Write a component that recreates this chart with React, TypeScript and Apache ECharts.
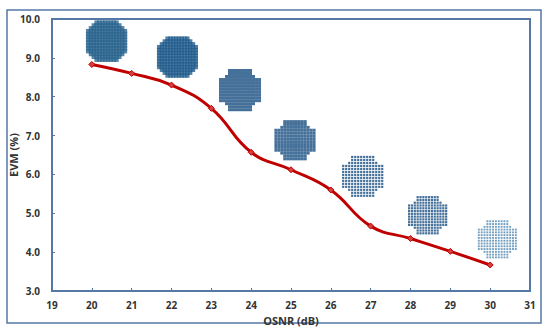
import React, { useEffect, useRef } from "react";
import * as echarts from "echarts";

const osnr = [20, 21, 22, 23, 24, 25, 26, 27, 28, 29, 30];
const evm = [8.83, 8.6, 8.3, 7.7, 6.57, 6.12, 5.6, 4.67, 4.35, 4.02, 3.67];

// Inset constellations, placed in data coordinates
const constX = [20.37, 22.15, 23.72, 25.1, 26.8, 28.43, 30.18];
const constY = [9.43, 9.02, 8.17, 6.88, 5.95, 4.95, 4.33];
const constSpanX = [0.92, 0.92, 0.98, 0.96, 0.98, 0.93, 0.93];
const constSpanY = [0.95, 0.95, 1.01, 0.96, 1.0, 0.93, 0.93];
const constDot = [4.6, 4.4, 3.0, 2.9, 2.2, 2.2, 1.9];
const constColor = ["#2d6790", "#255f8e", "#174c80", "#174c80", "#174c80", "#174c80", "#4f86b0"];
const latticeSize = 14;
const softCut = [3, 2, 1];
const hardCut = [3, 3, 2];
const constCut = [softCut, softCut, hardCut, hardCut, hardCut, hardCut, hardCut];

const lattice = (i: number) => {
  const pts: number[][] = [];
  const n = latticeSize;
  const cut = constCut[i];
  for (let r = 0; r < n; r++) {
    for (let c = 0; c < n; c++) {
      const er = Math.min(r, n - 1 - r);
      const ec = Math.min(c, n - 1 - c);
      if (er < cut.length && ec < cut[er]) continue;
      pts.push([
        constX[i] + ((c / (n - 1)) - 0.5) * constSpanX[i],
        constY[i] + ((r / (n - 1)) - 0.5) * constSpanY[i],
      ]);
    }
  }
  return pts;
};

const frameColor = "#5578a6";
const font = "'Open Sans', sans-serif";

export default function App() {
  const ref = useRef<HTMLDivElement>(null);
  useEffect(() => {
    const chart = echarts.init(ref.current!, undefined, { renderer: "svg" });
    chart.setOption({
      animation: false,
      backgroundColor: "#ffffff",
      graphic: [
        {
          type: "rect",
          shape: { x: 7, y: 10, width: 534, height: 313 },
          style: { fill: "none", stroke: frameColor, lineWidth: 1.5 },
          silent: true,
        },
      ],
      grid: {
        left: 52,
        top: 19,
        right: 20,
        bottom: 44,
        show: true,
        borderColor: frameColor,
        borderWidth: 2,
        outerBoundsMode: "none",
      },
      xAxis: {
        type: "value",
        min: 19,
        max: 31,
        interval: 1,
        name: "OSNR (dB)",
        nameLocation: "middle",
        nameGap: 24,
        nameMoveOverlap: false,
        nameTextStyle: { fontFamily: font, fontWeight: "bold", fontSize: 11, color: "#333" },
        axisLine: { show: true, onZero: false, lineStyle: { color: frameColor, width: 2 } },
        axisTick: { show: true, inside: true, length: 3, lineStyle: { color: frameColor } },
        axisLabel: { fontFamily: font, fontWeight: "bold", fontSize: 10, color: "#333", margin: 9 },
        splitLine: { show: false },
      },
      yAxis: {
        type: "value",
        min: 3,
        max: 10,
        interval: 1,
        name: "EVM (%)",
        nameLocation: "middle",
        nameGap: 33,
        nameMoveOverlap: false,
        nameTextStyle: { fontFamily: font, fontWeight: "bold", fontSize: 11, color: "#333" },
        axisLine: { show: true, onZero: false, lineStyle: { color: frameColor, width: 2 } },
        axisTick: { show: true, inside: true, length: 3, lineStyle: { color: frameColor } },
        axisLabel: {
          fontFamily: font,
          fontWeight: "bold",
          fontSize: 10,
          color: "#333",
          margin: 12,
          formatter: (v: number) => v.toFixed(1),
        },
        splitLine: { show: false },
      },
      series: [
        ...constX.map((_, i) => ({
          type: "scatter",
          silent: true,
          symbol: "rect",
          symbolSize: constDot[i],
          itemStyle: { color: constColor[i] },
          data: lattice(i),
          z: 1,
        })),
        {
          type: "line",
          data: osnr.map((x, i) => [x, evm[i]]),
          smooth: 0.45,
          symbol: "diamond",
          symbolSize: 6,
          showSymbol: true,
          lineStyle: { color: "#c00000", width: 3 },
          itemStyle: { color: "#d2403f", borderColor: "#c00000", borderWidth: 1 },
          z: 3,
        },
      ],
    });
    return () => chart.dispose();
  }, []);
  return <div ref={ref} style={{ position: "fixed", left: 0, top: 0, width: 550, height: 335 }} />;
}
